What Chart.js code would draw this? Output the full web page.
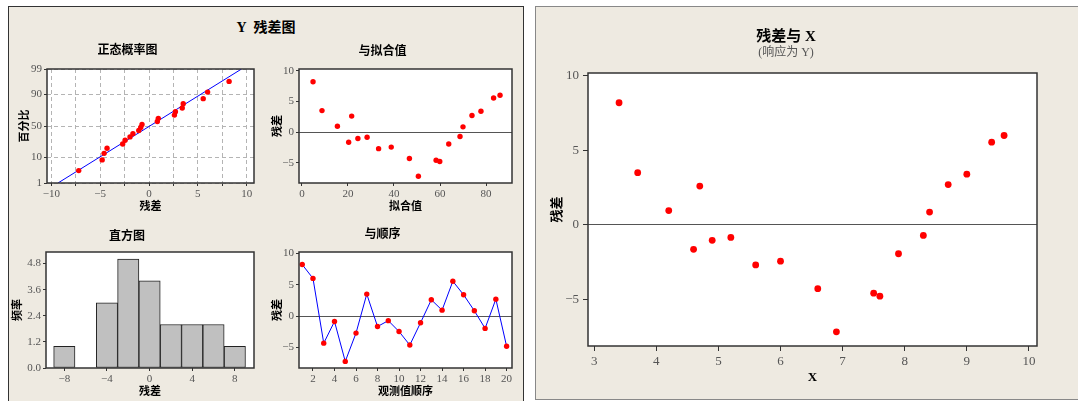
<!DOCTYPE html>
<html>
<head>
<meta charset="utf-8">
<script src="https://cdn.jsdelivr.net/npm/chart.js@4.4.1/dist/chart.umd.min.js"></script>
<style>
  body { margin: 0; background: #fff; width: 1078px; height: 401px; overflow: hidden; position: relative; }
  .panel { position: absolute; background: #EEEAE1; box-sizing: border-box; }
  #leftPanel { left: 8px; top: 6px; width: 516px; height: 400px; border: 1px solid #333; border-bottom: none; }
  #rightPanel { left: 535px; top: 6px; width: 550px; height: 394px; border: 1px solid #888; border-right: none; }
  #mainTitle { position: absolute; left: 8px; width: 516px; top: 16px; text-align: center;
    font: bold 14px 'Liberation Serif', 'Noto Sans CJK SC', sans-serif; color: #000; }
  canvas { position: absolute; }
</style>
</head>
<body>
<div class="panel" id="leftPanel"></div>
<div class="panel" id="rightPanel"></div>
<div id="mainTitle">Y&nbsp;&nbsp;残差图</div>
<canvas id="probChart" style="left:1px;top:39px" width="261" height="176"></canvas>
<canvas id="fitsChart" style="left:253px;top:39px" width="267" height="176"></canvas>
<canvas id="histChart" style="left:0px;top:222px" width="262" height="178"></canvas>
<canvas id="orderChart" style="left:253px;top:222px" width="267" height="178"></canvas>
<canvas id="xChart" style="left:535px;top:6px" width="543" height="394"></canvas>
<script>
const obsOrder = [1, 2, 3, 4, 5, 6, 7, 8, 9, 10, 11, 12, 13, 14, 15, 16, 17, 18, 19, 20];
const xValues = [3.4, 9.6, 6.6, 5.2, 6.9, 5.6, 3.7, 4.6, 8.3, 6.0, 7.5, 4.9, 4.7, 4.2, 9.4, 9.0, 8.4, 7.9, 8.7, 7.6];
const fittedValues = [4.8, 86.1, 46.7, 28.3, 50.6, 33.3, 8.7, 20.3, 68.7, 38.8, 58.3, 24.3, 21.6, 15.4, 83.3, 77.8, 70.0, 63.8, 73.9, 59.9];
const residuals = [8.2, 6.0, -4.3, -0.85, -7.2, -2.7, 3.5, -1.65, -0.72, -2.45, -4.6, -1.05, 2.6, 0.95, 5.55, 3.4, 0.85, -1.95, 2.7, -4.8];

// histogram
const binMids = [-8, -6, -4, -2, 0, 2, 4, 6, 8];
const binCounts = [1, 0, 3, 5, 4, 2, 2, 2, 1];

// tick labels
const probTicks = [1, 10, 50, 90, 99];
const probGridX = [-10, -7.5, -5, -2.5, 0, 2.5, 5, 7.5, 10];
const fitsTicks = [0, 20, 40, 60, 80];
const residTicks = [-5, 0, 5, 10];
const histXTicks = [-8, -4, 0, 4, 8];
const histYTicks = [0, 1.2, 2.4, 3.6, 4.8];
const orderTicks = [2, 4, 6, 8, 10, 12, 14, 16, 18, 20];
const xTicks = [3, 4, 5, 6, 7, 8, 9, 10];

const serif = "'Liberation Serif', 'DejaVu Serif', serif";
const titleFont = "'Liberation Serif', 'Noto Sans CJK SC', sans-serif";
const RED = '#FF0000';
const BLUE = '#0000FF';

// inverse normal cdf (Acklam)
function normInv(p) {
    const a = [-3.969683028665376e+01, 2.209460984245205e+02, -2.759285104469687e+02, 1.383577518672690e+02, -3.066479806614716e+01, 2.506628277459239e+00];
    const b = [-5.447609879822406e+01, 1.615858368580409e+02, -1.556989798598866e+02, 6.680131188771972e+01, -1.328068155288572e+01];
    const c = [-7.784894002430293e-03, -3.223964580411365e-01, -2.400758277161838e+00, -2.549671464901386e+00, 4.374664141464968e+00, 2.938163982698783e+00];
    const d = [7.784695709041462e-03, 3.224671290700398e-01, 2.445134137142996e+00, 3.754408661907416e+00];
    const pLow = 0.02425;
    let q, r;
    if (p < pLow) {
        q = Math.sqrt(-2 * Math.log(p));
        return (((((c[0] * q + c[1]) * q + c[2]) * q + c[3]) * q + c[4]) * q + c[5]) / ((((d[0] * q + d[1]) * q + d[2]) * q + d[3]) * q + 1);
    }
    if (p > 1 - pLow) {
        q = Math.sqrt(-2 * Math.log(1 - p));
        return -(((((c[0] * q + c[1]) * q + c[2]) * q + c[3]) * q + c[4]) * q + c[5]) / ((((d[0] * q + d[1]) * q + d[2]) * q + d[3]) * q + 1);
    }
    q = p - 0.5;
    r = q * q;
    return (((((a[0] * r + a[1]) * r + a[2]) * r + a[3]) * r + a[4]) * r + a[5]) * q / (((((b[0] * r + b[1]) * r + b[2]) * r + b[3]) * r + b[4]) * r + 1);
}

// white plot area + dark frame
const framePlugin = {
    id: 'frame',
    beforeDraw(chart) {
        const { ctx, chartArea: a } = chart;
        ctx.save();
        ctx.fillStyle = '#fff';
        ctx.fillRect(a.left, a.top, a.right - a.left, a.bottom - a.top);
        ctx.restore();
    },
    afterDraw(chart) {
        const { ctx, chartArea: a } = chart;
        ctx.save();
        ctx.strokeStyle = '#333';
        ctx.lineWidth = 1.5;
        ctx.strokeRect(a.left, a.top, a.right - a.left, a.bottom - a.top);
        ctx.restore();
    }
};

const minus = v => String(v).replace('-', '\u2212');

// one axis, fixed size so the plot area lands where it should
function axis(o) {
    return {
        type: 'linear',
        min: o.min,
        max: o.max,
        offset: false,
        afterBuildTicks: s => { s.ticks = o.ticks.map(v => ({ value: v })); },
        afterFit: s => { if (s.isHorizontal()) s.height = o.size; else s.width = o.size; },
        ticks: {
            font: { family: serif, size: o.fontSize || 11 },
            color: '#555',
            padding: o.pad || 2,
            maxRotation: 0,
            autoSkip: false,
            callback: o.label || minus
        },
        grid: {
            offset: false,
            drawOnChartArea: !!o.gridColor,
            color: o.gridColor || '#333',
            tickLength: o.tl || 3,
            tickColor: '#333',
            tickWidth: 1
        },
        border: { display: false, dash: o.dash || [] },
        title: {
            display: true,
            text: o.title,
            font: { family: titleFont, size: o.titleSize || 11, weight: 'bold', lineHeight: 1.2 },
            color: '#000',
            padding: o.titlePad
        }
    };
}

const zeroLine = ctx => ctx.tick.value === 0 ? '#555' : 'rgba(0,0,0,0)';

function subTitle(text, top, bottom) {
    return {
        display: true,
        text: text,
        font: { family: titleFont, size: 12, weight: 'bold', lineHeight: 1.25 },
        color: '#000',
        padding: { top: top, bottom: bottom }
    };
}

function baseOptions(scales, title, right) {
    return {
        responsive: false,
        animation: false,
        events: [],
        layout: { padding: { left: 0, right: right, top: 0, bottom: 0 } },
        plugins: { legend: { display: false }, tooltip: { enabled: false }, title: title },
        scales: scales
    };
}

Chart.defaults.font.family = serif;

// ---- normal probability plot ----
const n = residuals.length;
const sorted = residuals.slice().sort((a, b) => a - b);
const probPoints = sorted.map((r, i) => ({ x: r, y: normInv((i + 1 - 0.3) / (n + 0.4)) }));
const mean = residuals.reduce((s, v) => s + v, 0) / n;
const sd = Math.sqrt(residuals.reduce((s, v) => s + (v - mean) * (v - mean), 0) / (n - 1));
const zLow = normInv(probTicks[0] / 100);
const zHigh = normInv(probTicks[probTicks.length - 1] / 100);
const probZ = probTicks.map(p => normInv(p / 100));

new Chart(document.getElementById('probChart'), {
    type: 'scatter',
    data: {
        datasets: [
            { data: probPoints, pointRadius: 2.7, pointBackgroundColor: RED, pointBorderWidth: 0 },
            { data: [{ x: mean + sd * zLow, y: zLow }, { x: mean + sd * zHigh, y: zHigh }],
              showLine: true, borderColor: BLUE, borderWidth: 1, pointRadius: 0 }
        ]
    },
    options: baseOptions({
        x: axis({ min: -10.45, max: 10.75, ticks: probGridX, size: 32, title: '残差', titlePad: { top: 0, bottom: 1.4 },
                  gridColor: '#b4b4b4', dash: [4, 3], label: v => (v % 5 === 0 ? minus(v) : '') }),
        y: axis({ min: zLow, max: zHigh, ticks: probZ, size: 46, title: '百分比', titlePad: { top: 17.4, bottom: 0 },
                  gridColor: '#b4b4b4', dash: [4, 3], label: (v, i) => String(probTicks[i]) })
    }, subTitle('正态概率图', 4.5, 10.5), 8),
    plugins: [framePlugin]
});

// ---- residuals vs fits ----
new Chart(document.getElementById('fitsChart'), {
    type: 'scatter',
    data: {
        datasets: [{
            data: fittedValues.map((f, i) => ({ x: f, y: residuals[i] })),
            pointRadius: 2.7, pointBackgroundColor: RED, pointBorderWidth: 0
        }]
    },
    options: baseOptions({
        x: axis({ min: -1.3, max: 91.3, ticks: fitsTicks, size: 32, title: '拟合值', titlePad: { top: 0, bottom: 1.7 } }),
        y: axis({ min: -8.3, max: 10.28, ticks: residTicks, size: 46, title: '残差', titlePad: { top: 18.7, bottom: 0 },
                  gridColor: zeroLine })
    }, subTitle('与拟合值', 5.5, 9.5), 8),
    plugins: [framePlugin]
});

// ---- histogram ----
new Chart(document.getElementById('histChart'), {
    type: 'bar',
    data: {
        datasets: [{
            data: binMids.map((m, i) => ({ x: m, y: binCounts[i] })),
            backgroundColor: '#C0C0C0',
            borderColor: '#222',
            borderWidth: 1,
            borderSkipped: false,
            barPercentage: 1,
            categoryPercentage: 1
        }]
    },
    options: baseOptions({
        x: axis({ min: -9.72, max: 9.8, ticks: histXTicks, size: 32, title: '残差', titlePad: { top: 0, bottom: 1.7 } }),
        y: axis({ min: 0, max: 5.33, ticks: histYTicks, size: 46, title: '频率', titlePad: { top: 11.7, bottom: 0 },
                  label: v => v.toFixed(1) })
    }, subTitle('直方图', 7.5, 7.5), 8),
    plugins: [framePlugin]
});

// ---- residuals vs order ----
new Chart(document.getElementById('orderChart'), {
    type: 'scatter',
    data: {
        datasets: [{
            data: obsOrder.map((k, i) => ({ x: k, y: residuals[i] })),
            showLine: true, borderColor: BLUE, borderWidth: 1,
            pointRadius: 2.7, pointBackgroundColor: RED, pointBorderWidth: 0
        }]
    },
    options: baseOptions({
        x: axis({ min: 0.7, max: 20.5, ticks: orderTicks, size: 32, title: '观测值顺序', titlePad: { top: 0, bottom: 1.7 } }),
        y: axis({ min: -8.25, max: 10.2, ticks: residTicks, size: 46, title: '残差', titlePad: { top: 18.7, bottom: 0 },
                  gridColor: zeroLine })
    }, subTitle('与顺序', 5.5, 9.5), 8),
    plugins: [framePlugin]
});

// ---- residuals vs X (right panel) ----
const xOpts = baseOptions({
    x: axis({ min: 2.9, max: 10.13, ticks: xTicks, size: 54, fontSize: 13, tl: 5, pad: 3, titleSize: 13,
              title: 'X', titlePad: { top: 0, bottom: 14.2 } }),
    y: axis({ min: -8.15, max: 10.2, ticks: residTicks, size: 53, fontSize: 13, tl: 5, pad: 4, titleSize: 13,
              title: '残差', titlePad: { top: 15.2, bottom: 0 }, gridColor: zeroLine })
}, {
    display: true,
    text: '残差与 X',
    font: { family: titleFont, size: 15, weight: 'bold', lineHeight: 1.2 },
    color: '#000',
    padding: { top: 22, bottom: 0 }
}, 41);
xOpts.plugins.subtitle = {
    display: true,
    text: '(响应为 Y)',
    font: { family: titleFont, size: 12, lineHeight: 1.2 },
    color: '#555',
    padding: { top: 0, bottom: 12.6 }
};

new Chart(document.getElementById('xChart'), {
    type: 'scatter',
    data: {
        datasets: [{
            data: xValues.map((x, i) => ({ x: x, y: residuals[i] })),
            pointRadius: 3.4, pointBackgroundColor: RED, pointBorderWidth: 0
        }]
    },
    options: xOpts,
    plugins: [framePlugin]
});
</script>
</body>
</html>
